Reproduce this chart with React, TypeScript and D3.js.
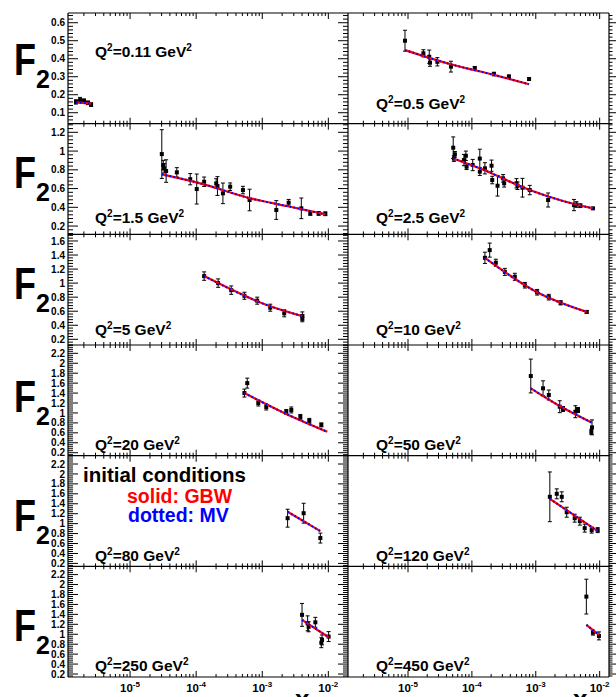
import React from "react";
import * as d3 from "d3";

// ---------- data ----------
const x_011 = [1.52e-6, 1.75e-6, 2.01e-6, 2.31e-6, 2.57e-6];
const f_011 = [0.16, 0.17, 0.165, 0.155, 0.145];
const e_011 = [0.012, 0.015, 0.012, 0.01, 0.01];
const cx_011 = [1.52e-6, 2.57e-6];
const cf_011 = [0.158, 0.15];

const x_05 = [8.97e-6, 1.74e-5, 2.15e-5, 2.21e-5, 2.88e-5, 4.7e-5, 1.11e-4, 2.21e-4, 3.8e-4, 7.85e-4];
const f_05 = [0.5, 0.43, 0.411, 0.378, 0.383, 0.356, 0.347, 0.315, 0.3, 0.287];
const e_05 = [0.058, 0.02, 0.037, 0.02, 0.023, 0.03, 0.01, 0.01, 0.01, 0.008];
const cx_05 = [8.97e-6, 4.7e-5, 2.21e-4, 7.85e-4];
const cf_05 = [0.448, 0.369, 0.31, 0.258];

const x_15 = [3.02e-5, 3.18e-5, 3.27e-5, 3.51e-5, 5.1e-5, 8.13e-5, 1.02e-4, 1.32e-4, 2.01e-4, 2.1e-4, 2.54e-4, 3.27e-4, 5.1e-4, 6.43e-4, 1.63e-3, 2.51e-3, 3.9e-3, 5.33e-3, 7.13e-3, 9.0e-3];
const f_15 = [0.968, 0.851, 0.816, 0.787, 0.773, 0.7, 0.595, 0.673, 0.655, 0.627, 0.549, 0.62, 0.584, 0.478, 0.371, 0.449, 0.389, 0.335, 0.335, 0.331];
const e_15 = [0.26, 0.05, 0.05, 0.12, 0.05, 0.06, 0.16, 0.05, 0.05, 0.1, 0.11, 0.04, 0.04, 0.115, 0.1, 0.035, 0.11, 0.02, 0.02, 0.02];
const cx_15 = [3.02e-5, 1.15e-4, 6.6e-4, 2.65e-3, 9.0e-3];
const cf_15 = [0.752, 0.656, 0.496, 0.406, 0.325];

const x_25 = [5.1e-5, 5.42e-5, 5.23e-5, 7.5e-5, 8.05e-5, 8.26e-5, 1.03e-4, 1.33e-4, 1.33e-4, 1.6e-4, 2.03e-4, 2.08e-4, 2.52e-4, 3.08e-4, 3.2e-4, 4.99e-4, 5.17e-4, 6.19e-4, 8.05e-4, 1.56e-3, 3.96e-3, 4.32e-3, 4.99e-3, 7.85e-3];
const f_25 = [1.036, 0.965, 0.92, 0.904, 0.95, 0.833, 0.851, 0.92, 0.78, 0.816, 0.844, 0.691, 0.63, 0.709, 0.656, 0.656, 0.63, 0.609, 0.584, 0.478, 0.424, 0.43, 0.417, 0.389];
const e_25 = [0.115, 0.03, 0.03, 0.06, 0.05, 0.03, 0.06, 0.1, 0.04, 0.06, 0.06, 0.04, 0.11, 0.04, 0.04, 0.05, 0.04, 0.1, 0.05, 0.075, 0.06, 0.03, 0.02, 0.01];
const cx_25 = [5.1e-5, 1.33e-4, 8.05e-4, 2.67e-3, 7.85e-3];
const cf_25 = [0.922, 0.816, 0.584, 0.467, 0.389];

const x_5 = [1.32e-4, 2.15e-4, 3.39e-4, 5.37e-4, 8.39e-4, 1.32e-3, 2.15e-3, 4.04e-3, 4.04e-3];
const f_5 = [1.1, 1.0, 0.9, 0.82, 0.75, 0.65, 0.57, 0.53, 0.5];
const e_5 = [0.06, 0.06, 0.06, 0.05, 0.05, 0.05, 0.05, 0.06, 0.05];
const cx_5 = [1.32e-4, 1.32e-3, 4.04e-3];
const cf_5 = [1.1, 0.67, 0.53];

const x_10 = [1.6e-4, 1.9e-4, 2.37e-4, 3.28e-4, 4.7e-4, 6.76e-4, 1.05e-3, 1.6e-3, 2.45e-3, 6.27e-3];
const f_10 = [1.36, 1.47, 1.29, 1.16, 1.09, 0.97, 0.87, 0.8, 0.72, 0.59];
const e_10 = [0.08, 0.1, 0.05, 0.05, 0.05, 0.04, 0.04, 0.04, 0.03, 0.02];
const cx_10 = [1.6e-4, 1.05e-3, 6.27e-3];
const cf_10 = [1.36, 0.87, 0.59];

const x_20 = [5.37e-4, 5.93e-4, 8.71e-4, 1.15e-3, 2.31e-3, 2.75e-3, 3.77e-3, 5.15e-3, 7.83e-3];
const f_20 = [1.4, 1.6, 1.2, 1.12, 1.02, 1.06, 0.92, 0.84, 0.76];
const e_20 = [0.08, 0.1, 0.06, 0.06, 0.05, 0.06, 0.05, 0.05, 0.04];
const cx_20 = [5.37e-4, 2.31e-3, 9.66e-3];
const cf_20 = [1.4, 0.98, 0.62];

const x_50 = [8.35e-4, 1.3e-3, 1.6e-3, 2.37e-3, 2.67e-3, 4.17e-3, 4.58e-3, 7.59e-3, 7.41e-3];
const f_50 = [1.743, 1.496, 1.361, 1.126, 1.08, 1.025, 1.06, 0.71, 0.62];
const e_50 = [0.34, 0.15, 0.1, 0.12, 0.05, 0.12, 0.05, 0.15, 0.05];
const cx_50 = [8.35e-4, 2.37e-3, 7.59e-3];
const cf_50 = [1.496, 1.14, 0.804];

const x_80 = [2.42e-3, 4.23e-3, 7.57e-3];
const f_80 = [1.11, 1.21, 0.71];
const e_80 = [0.18, 0.2, 0.1];
const cx_80 = [2.42e-3, 7.57e-3];
const cf_80 = [1.24, 0.85];

const x_120 = [1.66e-3, 2.13e-3, 2.55e-3, 3.05e-3, 4.07e-3, 4.9e-3, 5.83e-3, 7.5e-3, 9.31e-3];
const f_120 = [1.54, 1.6, 1.54, 1.23, 1.11, 1.05, 0.91, 0.87, 0.87];
const e_120 = [0.5, 0.1, 0.1, 0.1, 0.08, 0.08, 0.08, 0.06, 0.05];
const cx_120 = [1.66e-3, 9.31e-3];
const cf_120 = [1.5, 0.85];

const x_250 = [4.0e-3, 4.86e-3, 5.03e-3, 6.36e-3, 8.03e-3, 7.83e-3, 1.01e-2];
const f_250 = [1.39, 1.22, 1.15, 1.24, 0.886, 0.83, 0.953];
const e_250 = [0.23, 0.15, 0.1, 0.1, 0.1, 0.1, 0.1];
const cx_250 = [4.0e-3, 1.01e-2];
const cf_250 = [1.29, 0.94];

const x_450 = [6.19e-3, 7.85e-3, 9.75e-3];
const f_450 = [1.757, 1.033, 0.967];
const e_450 = [0.35, 0.05, 0.08];
const cx_450 = [6.19e-3, 9.75e-3];
const cf_450 = [1.188, 0.986];

const q2Labels = ["0.11", "0.5", "1.5", "2.5", "5", "10", "20", "50", "80", "120", "250", "450"];
const yTicksRow = [
  [0.1, 0.2, 0.3, 0.4, 0.5, 0.6],
  [0.2, 0.4, 0.6, 0.8, 1, 1.2],
  [0.2, 0.4, 0.6, 0.8, 1, 1.2, 1.4, 1.6],
  [0.2, 0.4, 0.6, 0.8, 1, 1.2, 1.4, 1.6, 1.8, 2, 2.2],
  [0.2, 0.4, 0.6, 0.8, 1, 1.2, 1.4, 1.6, 1.8, 2, 2.2],
  [0.2, 0.4, 0.6, 0.8, 1, 1.2, 1.4, 1.6, 1.8, 2, 2.2],
];
const yMinorStep = [0.02, 0.04, 0.04, 0.04, 0.04, 0.04];
const xTickExps = [-5, -4, -3, -2];
const legendLines = ["initial conditions", "solid: GBW", "dotted: MV"];

// ---------- layout ----------
const W = 616, H = 697;
const XMIN = 1.15e-6, XMAX = 1.4e-2;
const colRange: [number, number][] = [[68, 338], [348, 609]];
const rowTop = [13, 123.7, 234.3, 345, 455.7, 566.3];
const rowH = 110.7;
const rowDomain: [number, number][] = [
  [0.039, 0.654], [0.111, 1.292], [0.119, 1.695], [0.14, 2.367], [0.14, 2.367], [0.14, 2.367],
];
const FONT = "'Liberation Sans', Arial, Helvetica, sans-serif";
const fBase = [75, 188, 299, 412, 531, 641];
const qBase = [[57, 109], [223, 223], [335, 335], [450, 450], [561, 561], [671, 671]];

const series = [
  [x_011, f_011, e_011, cx_011, cf_011],
  [x_05, f_05, e_05, cx_05, cf_05],
  [x_15, f_15, e_15, cx_15, cf_15],
  [x_25, f_25, e_25, cx_25, cf_25],
  [x_5, f_5, e_5, cx_5, cf_5],
  [x_10, f_10, e_10, cx_10, cf_10],
  [x_20, f_20, e_20, cx_20, cf_20],
  [x_50, f_50, e_50, cx_50, cf_50],
  [x_80, f_80, e_80, cx_80, cf_80],
  [x_120, f_120, e_120, cx_120, cf_120],
  [x_250, f_250, e_250, cx_250, cf_250],
  [x_450, f_450, e_450, cx_450, cf_450],
];

function Panel({ idx }: { idx: number }) {
  const row = Math.floor(idx / 2), col = idx % 2;
  const [xs, fs, es, cxs, cfs] = series[idx];
  const x = d3.scaleLog().domain([XMIN, XMAX]).range(colRange[col]);
  const y = d3.scaleLinear().domain(rowDomain[row]).range([rowTop[row] + rowH, rowTop[row]]);
  const line = d3.line<number>().x((_, i) => x(cxs[i])).y((d) => y(d)).curve(d3.curveMonotoneX);
  const path = line(cfs) || "";
  const lab = q2Labels[idx];
  const tx = col === 0 ? 95 : 376;
  const ty = qBase[row][col];
  return (
    <g>
      <g clipPath={`url(#clip${idx})`}>
        {xs.map((xv, i) => {
          const px = x(xv), py = y(fs[i]);
          const y1 = y(fs[i] + es[i]), y2 = y(fs[i] - es[i]);
          return (
            <g key={i}>
              <line x1={px} x2={px} y1={y1} y2={y2} stroke="#000" strokeWidth={1} />
              <line x1={px - 2} x2={px + 2} y1={y1} y2={y1} stroke="#000" strokeWidth={1} />
              <line x1={px - 2} x2={px + 2} y1={y2} y2={y2} stroke="#000" strokeWidth={1} />
              <rect x={px - 2} y={py - 2} width={4} height={4} fill="#000" />
            </g>
          );
        })}
        <path d={path} fill="none" stroke="#ff0000" strokeWidth={2.2} />
        <path d={path} fill="none" stroke="#0000ff" strokeWidth={2} strokeDasharray="1.5,2.5" />
      </g>
      <text x={tx} y={ty} fontFamily={FONT} fontWeight="bold" fontSize={15.5}>
        Q<tspan fontSize={10} dy={-6}>2</tspan>
        <tspan dy={6}>={lab} GeV</tspan>
        <tspan fontSize={10} dy={-6}>2</tspan>
      </text>
    </g>
  );
}

function RowAxes({ row }: { row: number }) {
  const y = d3.scaleLinear().domain(rowDomain[row]).range([rowTop[row] + rowH, rowTop[row]]);
  const [d0, d1] = rowDomain[row];
  const step = yMinorStep[row];
  const minors: number[] = [];
  for (let v = Math.ceil(d0 / step) * step; v <= d1; v += step) minors.push(+v.toFixed(4));
  const majors = yTicksRow[row];
  const top = rowTop[row], bot = rowTop[row] + rowH;
  const xMinor: number[] = [];
  for (let e = -6; e <= -2; e++) for (let k = 1; k <= 9; k++) {
    const v = k * Math.pow(10, e);
    if (v >= XMIN && v <= XMAX) xMinor.push(v);
  }
  return (
    <g stroke="#000" strokeWidth={1}>
      {minors.map((v, i) => {
        const isMaj = majors.some((m) => Math.abs(m - v) < 1e-6);
        const L = isMaj ? 10 : 5;
        const py = y(v);
        return (
          <g key={i}>
            <line x1={68} x2={68 + L} y1={py} y2={py} />
            <line x1={348 - L} x2={348} y1={py} y2={py} />
            <line x1={609} x2={609 + L * 0.7} y1={py} y2={py} />
          </g>
        );
      })}
      {colRange.map((rg, c) => {
        const x = d3.scaleLog().domain([XMIN, XMAX]).range(rg);
        return xMinor.map((v, i) => {
          const isMaj = Math.abs(Math.log10(v) - Math.round(Math.log10(v))) < 1e-6;
          const L = isMaj ? 6 : 3;
          const px = x(v);
          return (
            <g key={c + "-" + i}>
              <line x1={px} x2={px} y1={top} y2={top + L} />
              <line x1={px} x2={px} y1={bot} y2={bot - L} />
            </g>
          );
        });
      })}
      <g stroke="none" fill="#000" fontFamily={FONT} fontWeight="bold" fontSize={10}>
        {majors.map((m) => (
          <text key={m} x={65} y={y(m) + 3.6} textAnchor="end">
            {String(m)}
          </text>
        ))}
      </g>
    </g>
  );
}

export default function App() {
  const xl = d3.scaleLog().domain([XMIN, XMAX]).range(colRange[0]);
  const xr = d3.scaleLog().domain([XMIN, XMAX]).range(colRange[1]);
  return (
    <svg width={W} height={H} style={{ position: "absolute", left: 0, top: 0, background: "#fff" }}>
      <rect x={0} y={0} width={W} height={H} fill="#fff" />
      <defs>
        {series.map((_, idx) => {
          const row = Math.floor(idx / 2), col = idx % 2;
          const x0 = col === 0 ? 68 : 348, x1 = col === 0 ? 348 : 609;
          return (
            <clipPath id={`clip${idx}`} key={idx}>
              <rect x={x0} y={rowTop[row]} width={x1 - x0} height={rowH} />
            </clipPath>
          );
        })}
      </defs>
      {rowTop.map((_, r) => (
        <RowAxes row={r} key={r} />
      ))}
      {/* frame lines */}
      <g stroke="#000" strokeWidth={1.2}>
        {[...rowTop, rowTop[5] + rowH].map((yy, i) => (
          <line key={i} x1={68} x2={609} y1={yy} y2={yy} />
        ))}
        <line x1={68} x2={68} y1={rowTop[0]} y2={rowTop[5] + rowH} />
        <line x1={348} x2={348} y1={rowTop[0]} y2={rowTop[5] + rowH} />
        <line x1={609} x2={609} y1={rowTop[0]} y2={rowTop[5] + rowH} />
      </g>
      {series.map((_, idx) => (
        <Panel idx={idx} key={idx} />
      ))}
      {/* F2 labels */}
      {fBase.map((b, r) => (
        <g key={r} fontFamily={FONT} fontWeight="bold">
          <text x={14} y={b} fontSize={45} transform={`translate(14 0) scale(0.8 1) translate(-14 0)`}>F</text>
          <text x={36} y={b + 13} fontSize={25}>2</text>
        </g>
      ))}
      {/* legend */}
      <g fontFamily={FONT} fontWeight="bold">
        <text x={83} y={482} fill="#000" fontSize={20.5}>{legendLines[0]}</text>
        <text x={127} y={503} fill="#ff0000" fontSize={19.5}>{legendLines[1]}</text>
        <text x={128} y={522} fill="#0000ff" fontSize={19.5}>{legendLines[2]}</text>
      </g>
      {/* x tick labels */}
      <g fontFamily={FONT} fontWeight="bold" fill="#000">
        {[xl, xr].map((sc, c) =>
          xTickExps.map((e) => (
            <text key={c + "" + e} x={sc(Math.pow(10, e)) - 10} y={692}>
              <tspan fontSize={11.5}>10</tspan>
              <tspan fontSize={8} dy={-5}>{String(e)}</tspan>
            </text>
          ))
        )}
        <text x={295} y={708} fontSize={26}>x</text>
        <text x={573} y={708} fontSize={26}>x</text>
      </g>
    </svg>
  );
}
